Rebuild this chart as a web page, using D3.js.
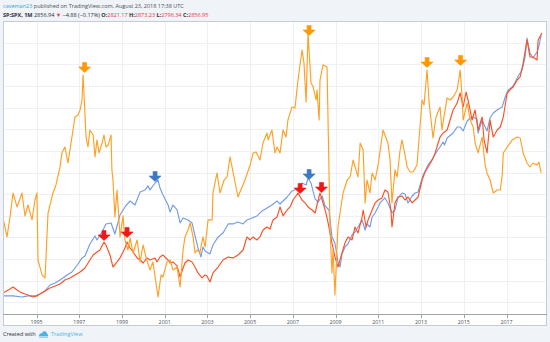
<!DOCTYPE html>
<html><head><meta charset="utf-8">
<script src="https://cdn.jsdelivr.net/npm/d3@7"></script>
<style>
body{margin:0;background:#f0f3f7;}
svg{display:block;font-family:"Open Sans","Noto Sans",Arial,sans-serif;}
</style></head>
<body><svg id="chart" width="550" height="342"></svg>
<script>
// ---- data (decimal year, value) ----
const blueYears = [1993.43,1993.90,1994.32,1994.60,1994.93,1995.16,1995.40,1995.63,1995.87,1996.10,1996.43,1996.66,1996.94,1997.13,1997.27,1997.50,1997.74,1997.83,1998.07,1998.25,1998.49,1998.67,1998.82,1998.91,1999.14,1999.38,1999.61,1999.85,2000.08,2000.22,2000.31,2000.55,2000.69,2000.78,2000.92,2001.16,2001.25,2001.39,2001.58,2001.72,2001.86,2002.09,2002.28,2002.42,2002.56,2002.70,2002.79,2002.89,2003.12,2003.26,2003.50,2003.73,2003.97,2004.20,2004.43,2004.67,2004.85,2005.09,2005.32,2005.56,2005.79,2006.02,2006.26,2006.40,2006.73,2006.96,2007.20,2007.43,2007.62,2007.71,2007.85,2008.04,2008.18,2008.37,2008.51,2008.69,2008.83,2008.97,2009.11,2009.21,2009.30,2009.44,2009.58,2009.77,2009.91,2010.05,2010.24,2010.38,2010.47,2010.61,2010.71,2010.85,2011.08,2011.31,2011.45,2011.64,2011.78,2011.92,2012.11,2012.25,2012.39,2012.58,2012.72,2012.86,2013.10,2013.33,2013.56,2013.75,2013.89,2014.03,2014.10,2014.22,2014.50,2014.69,2014.83,2014.97,2015.16,2015.30,2015.44,2015.62,2015.67,2015.86,2016.00,2016.09,2016.23,2016.38,2016.56,2016.80,2016.94,2017.08,2017.27,2017.41,2017.55,2017.73,2017.87,2017.96,2018.10,2018.24,2018.43,2018.52,2018.62];
const blueValues = [460,460,450,460,460,478,506,561,580,607,654,681,755,811,829,940,1014,977,1051,1125,1134,1032,1143,1208,1282,1337,1300,1420,1439,1476,1439,1503,1531,1457,1393,1300,1236,1300,1254,1134,1180,1162,1134,1014,903,820,912,875,848,931,1005,1042,1125,1125,1143,1125,1162,1180,1199,1245,1272,1300,1337,1309,1374,1430,1448,1503,1485,1550,1503,1356,1328,1383,1291,1254,1005,949,774,727,848,912,940,1023,1051,1097,1162,1069,1125,1097,1189,1226,1319,1365,1319,1226,1254,1365,1411,1402,1319,1383,1411,1420,1577,1670,1734,1799,1836,1882,1854,1919,1965,2021,2021,1984,2076,2104,2113,2095,1965,2085,2021,1984,2104,2150,2178,2206,2298,2363,2390,2436,2492,2547,2667,2843,2704,2658,2714,2769,2871];

const redYears = [1993.43,1993.76,1993.90,1994.09,1994.23,1994.46,1994.60,1994.84,1995.02,1995.16,1995.40,1995.63,1995.87,1996.10,1996.33,1996.57,1996.80,1997.04,1997.27,1997.50,1997.65,1997.83,1997.97,1998.16,1998.25,1998.44,1998.58,1998.77,1998.91,1999.05,1999.14,1999.24,1999.38,1999.52,1999.71,1999.85,1999.99,2000.17,2000.31,2000.55,2000.64,2000.78,2000.92,2001.01,2001.16,2001.25,2001.39,2001.58,2001.72,2001.86,2001.95,2002.09,2002.28,2002.42,2002.56,2002.75,2002.89,2002.98,2003.12,2003.26,2003.50,2003.73,2003.97,2004.20,2004.43,2004.67,2004.85,2005.00,2005.14,2005.32,2005.46,2005.60,2005.79,2005.93,2006.07,2006.26,2006.40,2006.54,2006.73,2006.87,2007.01,2007.24,2007.43,2007.57,2007.71,2007.90,2008.04,2008.13,2008.27,2008.37,2008.51,2008.65,2008.83,2008.97,2009.11,2009.30,2009.44,2009.58,2009.77,2009.91,2010.05,2010.24,2010.29,2010.43,2010.52,2010.71,2010.85,2010.99,2011.17,2011.31,2011.45,2011.59,2011.64,2011.78,2011.92,2012.11,2012.25,2012.39,2012.58,2012.72,2012.86,2013.05,2013.19,2013.33,2013.52,2013.66,2013.80,2013.89,2014.03,2014.22,2014.36,2014.50,2014.69,2014.83,2014.97,2015.11,2015.20,2015.39,2015.53,2015.67,2015.86,2015.95,2016.09,2016.23,2016.38,2016.56,2016.71,2016.85,2017.03,2017.17,2017.31,2017.50,2017.64,2017.78,2017.96,2018.10,2018.24,2018.43,2018.48,2018.66];
const redValues = [487,524,543,515,497,478,469,450,460,478,506,533,552,570,607,626,654,681,718,792,838,866,884,958,931,838,727,774,811,866,903,958,903,866,811,792,764,811,792,811,774,820,838,820,792,764,774,737,635,718,764,792,774,727,672,626,654,644,589,672,727,792,820,811,838,884,1005,977,1005,977,1005,1069,1097,1078,1162,1189,1282,1199,1254,1282,1346,1411,1346,1319,1282,1254,1226,1300,1411,1346,1254,1134,949,820,727,857,949,1005,977,1097,1042,1189,1254,1097,1162,1254,1319,1346,1365,1439,1420,1254,1097,1319,1374,1383,1346,1374,1319,1346,1374,1531,1605,1651,1716,1781,1873,1928,1965,1993,2085,2178,2242,2335,2206,2344,2270,2085,2178,1993,2113,1901,1781,2085,1928,1993,2021,2113,2335,2363,2390,2455,2483,2612,2824,2667,2667,2640,2824,2889];

const orangeYears = [1993.43,1993.62,1993.76,1993.90,1994.09,1994.32,1994.46,1994.60,1994.79,1994.93,1995.02,1995.07,1995.26,1995.40,1995.54,1995.77,1995.91,1996.10,1996.19,1996.33,1996.47,1996.66,1996.80,1996.94,1997.04,1997.13,1997.18,1997.32,1997.41,1997.50,1997.65,1997.74,1997.83,1997.93,1998.07,1998.16,1998.25,1998.35,1998.49,1998.53,1998.58,1998.67,1998.77,1998.82,1998.91,1999.05,1999.14,1999.28,1999.38,1999.52,1999.71,1999.85,1999.99,2000.13,2000.31,2000.45,2000.55,2000.69,2000.83,2000.92,2001.11,2001.25,2001.39,2001.58,2001.72,2001.86,2001.95,2002.09,2002.19,2002.33,2002.42,2002.51,2002.65,2002.79,2002.89,2003.03,2003.22,2003.26,2003.45,2003.59,2003.78,2003.92,2004.06,2004.20,2004.43,2004.62,2004.76,2005.00,2005.14,2005.28,2005.46,2005.60,2005.79,2005.84,2006.02,2006.16,2006.26,2006.40,2006.54,2006.68,2006.77,2006.96,2007.10,2007.24,2007.43,2007.52,2007.62,2007.71,2007.85,2007.95,2008.09,2008.13,2008.23,2008.27,2008.41,2008.60,2008.69,2008.74,2008.83,2008.88,2008.97,2009.11,2009.35,2009.54,2009.68,2009.82,2010.05,2010.15,2010.29,2010.38,2010.47,2010.61,2010.71,2010.85,2010.99,2011.22,2011.45,2011.55,2011.64,2011.78,2011.88,2012.02,2012.11,2012.25,2012.35,2012.49,2012.63,2012.81,2012.95,2013.05,2013.14,2013.28,2013.38,2013.52,2013.56,2013.70,2013.89,2013.98,2014.07,2014.22,2014.36,2014.50,2014.69,2014.83,2014.92,2014.97,2015.16,2015.30,2015.44,2015.53,2015.67,2015.86,2016.00,2016.09,2016.23,2016.38,2016.56,2016.71,2016.80,2016.85,2017.03,2017.27,2017.50,2017.64,2017.78,2017.96,2018.10,2018.24,2018.43,2018.52,2018.62];
const orangeValues = [1180,1005,1189,1411,1282,1411,1199,1300,1162,1346,1411,792,654,626,1226,1411,1485,1651,1781,1836,1688,1928,2113,2132,2178,2270,2501,1928,1836,1993,1947,1744,1901,1781,1873,1947,1836,1854,1947,1624,1531,1189,1439,1282,1005,1199,977,884,995,857,977,774,931,811,700,774,635,450,654,635,774,792,700,727,543,884,1005,1069,1134,1005,857,884,857,1005,912,1162,1162,1411,1596,1411,1531,1559,1744,1605,1374,1466,1531,1670,1781,1790,1716,1873,1965,1901,1993,1781,1836,1781,1993,1928,2085,2206,2196,2455,2732,2612,2252,2889,2427,2390,2270,2363,2085,2455,2594,2575,1624,1069,672,884,469,1097,1411,1531,1559,1716,1559,1873,1808,1319,1531,1411,1596,1531,1670,1993,1873,1716,1319,1624,1559,1808,1901,1762,1651,1605,1605,1670,2021,2270,2224,2547,2242,1993,1919,2113,2206,1993,2113,2289,2270,2298,2363,2547,2298,2085,2242,2085,2021,1873,1781,1928,1670,1596,1531,1411,1439,1439,1577,1781,1836,1901,1928,1919,1781,1688,1651,1688,1670,1697,1596];

// arrow markers (decimal year, value at arrow tip)
const orangeArrowYears = [1997.25, 2007.76, 2013.28, 2014.85];
const orangeArrowValues = [2529, 2871, 2575, 2594];
const blueArrowYears = [2000.55, 2007.76];
const blueArrowValues = [1522, 1540];
const redArrowYears = [1998.16, 1999.24, 2007.34, 2008.34];
const redArrowValues = [977, 1005, 1411, 1420];

const xTickYears = [1995,1997,1999,2001,2003,2005,2007,2009,2011,2013,2015,2017];
const xTickLabels = ["1995","1997","1999","2001","2003","2005","2007","2009","2011","2013","2015","2017"];
const yGridValues = [400,600,800,1000,1200,1400,1600,1800,2000,2200,2400,2600,2800];

// ---- layout ----
const W = 550, H = 342;
const plot = {left: 3, right: 547, top: 21, bottom: 314, frameBottom: 325};
const x = d3.scaleLinear().domain([1995, 2017]).range([36.5, 506.5]);
const y = d3.scaleLinear().domain([293, 3000]).range([plot.bottom, plot.top]);

const svg = d3.select("#chart");
svg.append("rect").attr("width", W).attr("height", H).attr("fill", "#f0f3f7");
svg.append("rect").attr("x", plot.left + 0.5).attr("y", plot.top + 0.5)
  .attr("width", plot.right - plot.left - 1).attr("height", plot.frameBottom - plot.top)
  .attr("fill", "#ffffff").attr("stroke", "#c8ccd2").attr("stroke-width", 1);

// grid
const grid = svg.append("g").attr("stroke", "#eef0f3").attr("stroke-width", 1);
grid.selectAll("line.v").data(xTickYears).join("line")
  .attr("x1", d => Math.round(x(d)) + 0.5).attr("x2", d => Math.round(x(d)) + 0.5)
  .attr("y1", plot.top + 1).attr("y2", plot.bottom);
grid.selectAll("line.h").data(yGridValues).join("line")
  .attr("x1", plot.left + 1).attr("x2", plot.right - 1)
  .attr("y1", d => Math.round(y(d)) + 0.5).attr("y2", d => Math.round(y(d)) + 0.5);

// axis
svg.append("line").attr("x1", plot.left).attr("x2", plot.right)
  .attr("y1", plot.bottom + 0.5).attr("y2", plot.bottom + 0.5).attr("stroke", "#9ea3ab");
const ticks = svg.append("g");
ticks.selectAll("line").data(xTickYears).join("line")
  .attr("x1", d => Math.round(x(d)) + 0.5).attr("x2", d => Math.round(x(d)) + 0.5)
  .attr("y1", plot.bottom + 1).attr("y2", plot.bottom + 4).attr("stroke", "#9ea3ab");
ticks.selectAll("text").data(xTickYears).join("text")
  .attr("x", d => x(d)).attr("y", plot.bottom + 9.5)
  .attr("text-anchor", "middle").attr("font-size", 5.3).attr("fill", "#4a4f57")
  .text((d, i) => xTickLabels[i]);

// clip
svg.append("clipPath").attr("id", "clip").append("rect")
  .attr("x", plot.left + 1).attr("y", plot.top + 1)
  .attr("width", plot.right - plot.left - 2).attr("height", plot.bottom - plot.top - 1);

const line = d3.line().x(d => x(d[0])).y(d => y(d[1]));
const lines = svg.append("g").attr("clip-path", "url(#clip)").attr("fill", "none")
  .attr("stroke-width", 1.15).attr("stroke-linejoin", "round");
const series = [
  {years: blueYears, values: blueValues, color: "#729cea"},
  {years: redYears, values: redValues, color: "#ff5024"},
  {years: orangeYears, values: orangeValues, color: "#ffa024"}
];
series.forEach(s => {
  lines.append("path").datum(s.years.map((yr, i) => [yr, s.values[i]]))
    .attr("stroke", s.color).attr("d", line);
});

// arrows
const arrowPath = "M-2,-9.5 L2,-9.5 L2,-5 L6,-5 L0,0.5 L-6,-5 L-2,-5 Z";
const arrowSets = [
  {years: orangeArrowYears, values: orangeArrowValues, color: "#ff9800"},
  {years: blueArrowYears, values: blueArrowValues, color: "#3b78c6"},
  {years: redArrowYears, values: redArrowValues, color: "#f41616"}
];
arrowSets.forEach(a => {
  svg.append("g").selectAll("path").data(a.years.map((yr, i) => [yr, a.values[i]])).join("path")
    .attr("transform", d => `translate(${x(d[0])},${y(d[1])})`)
    .attr("d", arrowPath).attr("fill", a.color)
    .attr("stroke", a.color).attr("stroke-width", 0.6).attr("stroke-linejoin", "round");
});

// header
const h1 = svg.append("text").attr("x", 3).attr("y", 8).attr("font-size", 5.5).attr("fill", "#4a4f57");
h1.append("tspan").attr("fill", "#2fa6e0").text("caveman23");
h1.append("tspan").text(" published on TradingView.com, August 23, 2018 17:38 UTC");

const red = "#e8363d";
const h2 = svg.append("text").attr("x", 3).attr("y", 16.5).attr("font-size", 5.5).attr("fill", "#2b2f36");
h2.append("tspan").attr("font-weight", "bold").text("SP:SPX, 1M");
h2.append("tspan").text(" 2856.94 ");
h2.append("tspan").attr("fill", red).text("▼");
h2.append("tspan").text(" −4.88 (−0.17%) ");
[["O:", "2821.17"], ["H:", "2873.23"], ["L:", "2796.34"], ["C:", "2856.95"]].forEach(([k, v]) => {
  h2.append("tspan").attr("font-weight", "bold").text(k);
  h2.append("tspan").attr("fill", red).text(v + " ");
});

// footer
svg.append("text").attr("x", 3).attr("y", 336).attr("font-size", 5.5).attr("fill", "#2b2f36").text("Created with");
const logo = svg.append("g").attr("transform", "translate(39,331)").attr("fill", "#4ab4e6");
logo.append("path").attr("d", "M0,5 C0,3 1.5,2 3,2.3 C3.5,0.6 5,0 6.3,0.4 C7.6,0.8 8.2,2 8,3 C9,3.2 9.4,4.2 9,5 Z");
logo.append("rect").attr("x", 0).attr("y", 5.6).attr("width", 9).attr("height", 0.9);
svg.append("text").attr("x", 51).attr("y", 336).attr("font-size", 5.5).attr("fill", "#4ab4e6").text("TradingView");
</script></body></html>
